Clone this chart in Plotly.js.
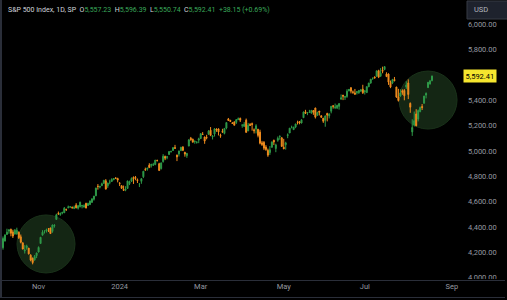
<!DOCTYPE html>
<html>
<head>
<meta charset="utf-8">
<script src="https://cdn.plot.ly/plotly-3.0.1.min.js"></script>
<style>html,body{margin:0;padding:0;background:#000;}#chart{width:507px;height:300px;}</style>
</head>
<body>
<div id="chart"></div>
<script>
// Trading days shown (S&P 500, daily)
const dates = [
'2023-10-06','2023-10-09','2023-10-10','2023-10-11','2023-10-12','2023-10-13','2023-10-16','2023-10-17','2023-10-18','2023-10-19','2023-10-20','2023-10-23','2023-10-24','2023-10-25','2023-10-26','2023-10-27','2023-10-30','2023-10-31',
'2023-11-01','2023-11-02','2023-11-03','2023-11-06','2023-11-07','2023-11-08','2023-11-09','2023-11-10','2023-11-13','2023-11-14','2023-11-15','2023-11-16','2023-11-17','2023-11-20','2023-11-21','2023-11-22','2023-11-24','2023-11-27','2023-11-28','2023-11-29','2023-11-30',
'2023-12-01','2023-12-04','2023-12-05','2023-12-06','2023-12-07','2023-12-08','2023-12-11','2023-12-12','2023-12-13','2023-12-14','2023-12-15','2023-12-18','2023-12-19','2023-12-20','2023-12-21','2023-12-22','2023-12-26','2023-12-27','2023-12-28','2023-12-29',
'2024-01-02','2024-01-03','2024-01-04','2024-01-05','2024-01-08','2024-01-09','2024-01-10','2024-01-11','2024-01-12','2024-01-16','2024-01-17','2024-01-18','2024-01-19','2024-01-22','2024-01-23','2024-01-24','2024-01-25','2024-01-26','2024-01-29','2024-01-30','2024-01-31',
'2024-02-01','2024-02-02','2024-02-05','2024-02-06','2024-02-07','2024-02-08','2024-02-09','2024-02-12','2024-02-13','2024-02-14','2024-02-15','2024-02-16','2024-02-20','2024-02-21','2024-02-22','2024-02-23','2024-02-26','2024-02-27','2024-02-28','2024-02-29',
'2024-03-01','2024-03-04','2024-03-05','2024-03-06','2024-03-07','2024-03-08','2024-03-11','2024-03-12','2024-03-13','2024-03-14','2024-03-15','2024-03-18','2024-03-19','2024-03-20','2024-03-21','2024-03-22','2024-03-25','2024-03-26','2024-03-27','2024-03-28',
'2024-04-01','2024-04-02','2024-04-03','2024-04-04','2024-04-05','2024-04-08','2024-04-09','2024-04-10','2024-04-11','2024-04-12','2024-04-15','2024-04-16','2024-04-17','2024-04-18','2024-04-19','2024-04-22','2024-04-23','2024-04-24','2024-04-25','2024-04-26','2024-04-29','2024-04-30',
'2024-05-01','2024-05-02','2024-05-03','2024-05-06','2024-05-07','2024-05-08','2024-05-09','2024-05-10','2024-05-13','2024-05-14','2024-05-15','2024-05-16','2024-05-17','2024-05-20','2024-05-21','2024-05-22','2024-05-23','2024-05-24','2024-05-28','2024-05-29','2024-05-30','2024-05-31',
'2024-06-03','2024-06-04','2024-06-05','2024-06-06','2024-06-07','2024-06-10','2024-06-11','2024-06-12','2024-06-13','2024-06-14','2024-06-17','2024-06-18','2024-06-20','2024-06-21','2024-06-24','2024-06-25','2024-06-26','2024-06-27','2024-06-28',
'2024-07-01','2024-07-02','2024-07-03','2024-07-05','2024-07-08','2024-07-09','2024-07-10','2024-07-11','2024-07-12','2024-07-15','2024-07-16','2024-07-17','2024-07-18','2024-07-19','2024-07-22','2024-07-23','2024-07-24','2024-07-25','2024-07-26','2024-07-29','2024-07-30','2024-07-31',
'2024-08-01','2024-08-02','2024-08-05','2024-08-06','2024-08-07','2024-08-08','2024-08-09','2024-08-12','2024-08-13','2024-08-14','2024-08-15','2024-08-16','2024-08-19'
];

const openP = [
4234.8,4289.0,4339.8,4366.6,4380.9,4360.5,4342.4,4345.2,4357.4,4321.4,4273.9,4210.4,4235.8,4232.4,4176.0,4152.9,4139.4,4171.3,
4201.3,4268.3,4334.2,4364.3,4366.2,4384.4,4391.4,4364.2,4406.7,4459.0,4505.3,4497.1,4509.6,4511.7,4538.8,4553.0,4555.8,4554.9,4545.6,4571.8,4548.0,
4559.4,4564.4,4557.3,4586.2,4568.8,4576.2,4593.4,4618.3,4646.2,4721.0,4714.2,4725.6,4743.7,4764.7,4724.3,4753.9,4758.9,4773.5,4786.4,4782.9,
4745.2,4725.1,4697.4,4690.6,4703.7,4741.9,4759.9,4792.1,4791.2,4772.4,4739.1,4760.1,4796.3,4853.4,4856.8,4888.6,4886.7,4888.9,4893.0,4925.9,4899.2,
4861.1,4916.1,4957.2,4950.2,4973.1,4995.2,5004.2,5026.8,4967.9,4976.4,5003.1,5031.1,4989.3,4963.0,5038.8,5100.9,5093.0,5074.6,5067.2,5085.4,
5098.5,5131.0,5110.5,5108.0,5132.4,5164.5,5112.0,5134.3,5173.5,5175.1,5123.3,5154.8,5139.1,5181.7,5253.4,5242.5,5219.5,5228.9,5226.3,5248.0,
5258.0,5204.3,5194.4,5244.1,5159.0,5211.4,5217.0,5167.9,5173.0,5171.5,5149.7,5064.6,5069.0,5031.5,5005.4,4987.3,5028.9,5084.9,5019.9,5084.7,5114.1,5103.8,
5029.0,5049.3,5122.8,5142.4,5187.2,5169.0,5189.3,5225.5,5233.1,5221.1,5263.3,5310.1,5303.1,5305.4,5298.7,5319.3,5340.3,5281.5,5315.9,5278.7,5259.8,5243.2,
5297.2,5278.2,5314.5,5357.8,5343.8,5341.2,5353.0,5409.1,5441.9,5424.1,5431.1,5476.2,5500.0,5466.8,5459.6,5460.7,5460.7,5473.6,5488.5,
5471.1,5461.8,5507.4,5537.9,5572.8,5584.2,5591.3,5635.2,5590.8,5638.2,5644.1,5610.1,5608.6,5543.4,5537.2,5565.3,5505.8,5428.7,5433.7,5476.6,5478.7,5505.6,
5537.8,5376.6,5151.1,5206.4,5293.1,5252.6,5311.8,5351.4,5377.0,5442.0,5501.1,5530.5,5557.23
];

const highP = [
4324.1,4341.7,4385.5,4378.6,4385.9,4377.1,4383.3,4393.6,4364.2,4339.5,4276.6,4255.8,4259.4,4232.4,4183.6,4156.7,4177.5,4195.6,
4245.6,4319.7,4374.0,4372.2,4386.3,4391.2,4393.4,4418.0,4421.8,4504.1,4521.2,4512.0,4520.1,4557.1,4542.1,4568.4,4560.3,4560.5,4568.1,4587.6,4569.9,
4599.4,4572.4,4578.6,4590.7,4590.9,4609.2,4623.0,4643.9,4709.7,4738.6,4725.5,4749.5,4768.7,4778.0,4748.7,4772.9,4784.7,4785.4,4793.3,4788.4,
4754.3,4729.3,4726.8,4721.5,4764.5,4765.5,4790.8,4798.5,4802.4,4782.3,4744.2,4785.8,4842.1,4868.4,4866.5,4903.7,4898.2,4906.7,4929.3,4931.1,4906.8,
4907.0,4975.3,4963.4,4957.8,4999.9,5000.4,5030.1,5048.4,4971.3,5002.5,5032.7,5038.7,4993.6,4983.2,5094.4,5111.1,5097.7,5080.7,5077.4,5105.0,
5140.3,5149.7,5114.5,5128.0,5165.6,5189.3,5124.7,5179.9,5179.1,5176.9,5136.9,5175.6,5180.3,5226.2,5261.1,5246.1,5229.1,5235.2,5249.3,5264.9,
5264.0,5208.3,5228.8,5256.6,5222.2,5219.6,5224.8,5178.4,5211.8,5175.0,5168.4,5079.8,5078.0,5046.5,5019.0,5038.8,5076.1,5089.5,5057.8,5114.6,5123.5,5110.8,
5096.1,5073.2,5139.1,5181.0,5200.2,5192.0,5215.3,5239.7,5237.3,5250.4,5311.8,5325.5,5305.4,5325.3,5324.3,5323.2,5341.9,5311.6,5315.9,5282.3,5260.2,5280.3,
5302.1,5298.8,5354.2,5362.4,5375.1,5365.8,5376.0,5447.3,5441.9,5432.4,5488.5,5490.4,5505.5,5478.3,5490.7,5472.9,5483.1,5490.8,5523.6,
5479.6,5509.7,5539.3,5570.3,5583.1,5590.8,5635.4,5642.5,5655.6,5666.9,5669.7,5622.5,5614.1,5557.5,5570.3,5585.3,5508.0,5491.5,5488.3,5487.7,5489.5,5551.5,
5566.2,5383.9,5250.9,5312.3,5330.6,5328.0,5351.9,5371.2,5436.5,5463.2,5546.2,5562.0,5596.39
];

const lowP = [
4219.6,4283.8,4339.6,4345.3,4325.4,4312.0,4342.4,4337.5,4303.8,4269.7,4223.0,4189.2,4219.4,4181.4,4127.9,4103.8,4132.9,4153.1,
4197.7,4268.3,4334.2,4347.5,4355.4,4359.8,4343.9,4353.3,4393.8,4459.0,4495.3,4487.8,4499.7,4510.4,4525.5,4545.1,4552.8,4545.9,4540.5,4547.2,4537.2,
4554.7,4546.7,4551.7,4546.5,4565.2,4574.1,4593.4,4608.1,4643.2,4694.3,4704.7,4725.6,4743.7,4697.8,4708.4,4736.8,4758.9,4768.9,4781.0,4752.0,
4722.7,4699.7,4687.5,4682.1,4699.8,4730.4,4756.2,4739.6,4769.0,4747.1,4714.8,4740.6,4785.9,4844.1,4844.4,4865.9,4869.3,4881.5,4887.4,4916.3,4845.2,
4853.5,4908.0,4927.9,4934.9,4969.1,4987.1,5000.3,5016.3,4920.3,4956.4,4999.4,4999.5,4955.0,4946.0,5038.8,5081.5,5068.9,5057.3,5058.4,5061.9,
5094.2,5127.2,5056.8,5092.2,5128.2,5117.5,5091.1,5114.5,5151.9,5123.3,5104.4,5145.5,5131.6,5171.6,5240.7,5229.9,5216.1,5203.4,5213.9,5246.5,
5229.2,5184.1,5194.4,5146.1,5157.2,5197.4,5160.8,5138.7,5138.8,5107.9,5052.5,5039.8,5007.3,5001.6,4953.6,4969.4,5028.0,5047.0,4990.6,5073.1,5088.7,5035.3,
5013.5,5011.1,5101.2,5142.4,5179.0,5165.9,5180.4,5209.7,5211.2,5218.0,5263.3,5296.2,5283.6,5302.4,5297.9,5286.0,5256.9,5278.4,5280.9,5262.7,5222.1,5191.7,
5234.3,5257.6,5297.6,5335.4,5331.3,5331.5,5327.3,5409.1,5402.5,5403.8,5420.4,5471.3,5455.6,5452.0,5447.6,5446.6,5451.9,5467.5,5451.1,
5446.5,5458.4,5507.4,5531.6,5562.5,5574.6,5586.4,5576.5,5590.4,5614.8,5639.0,5584.8,5522.8,5497.0,5529.0,5550.9,5420.0,5391.0,5430.7,5444.4,5401.0,5491.0,
5410.4,5302.0,5119.3,5193.6,5195.5,5233.9,5306.0,5324.4,5377.0,5416.0,5501.1,5525.2,5550.74
];

const closeP = [
4308.5,4335.7,4358.2,4377.0,4349.6,4327.8,4373.6,4373.2,4314.6,4278.0,4224.2,4217.0,4247.7,4186.8,4137.2,4117.4,4166.8,4193.8,
4237.9,4317.8,4358.3,4366.0,4378.4,4382.8,4347.4,4415.2,4411.6,4495.7,4502.9,4508.2,4514.0,4547.4,4538.2,4556.6,4559.3,4550.4,4554.9,4550.6,4567.8,
4594.6,4569.8,4567.2,4549.3,4585.6,4604.4,4622.4,4643.7,4707.1,4719.6,4719.2,4740.6,4768.4,4698.4,4746.8,4754.6,4774.8,4781.6,4783.4,4769.8,
4742.8,4704.8,4688.7,4697.2,4763.5,4756.5,4783.5,4780.2,4783.8,4766.0,4739.2,4780.9,4839.8,4850.4,4864.6,4868.6,4894.2,4891.0,4927.9,4925.0,4845.7,
4906.2,4958.6,4942.8,4954.2,4995.1,4997.9,5026.6,5021.8,4953.2,5000.6,5029.7,5005.6,4975.5,4981.8,5087.0,5088.8,5069.5,5078.2,5069.8,5096.3,
5137.1,5130.9,5078.7,5104.8,5157.4,5123.7,5117.9,5175.3,5165.3,5150.5,5117.1,5149.4,5178.5,5224.6,5241.5,5234.2,5218.2,5203.6,5248.5,5254.4,
5243.8,5205.8,5211.5,5147.2,5204.3,5202.4,5209.9,5160.6,5199.1,5123.4,5061.8,5051.4,5022.2,5011.1,4967.2,5010.6,5070.6,5071.6,5048.4,5100.0,5116.2,5035.7,
5018.4,5064.2,5127.8,5180.7,5187.7,5187.7,5214.1,5222.7,5221.4,5246.7,5308.2,5297.1,5303.3,5308.1,5321.4,5307.0,5267.8,5304.7,5306.0,5267.0,5235.5,5277.5,
5283.4,5291.3,5354.0,5353.0,5347.0,5360.8,5375.3,5421.0,5433.7,5431.6,5473.2,5487.0,5473.2,5464.6,5447.9,5469.3,5477.9,5482.9,5460.5,
5475.1,5509.0,5537.0,5567.2,5572.9,5577.0,5633.9,5584.5,5615.4,5631.2,5667.2,5588.3,5544.6,5505.0,5564.4,5555.7,5427.1,5399.2,5459.1,5463.5,5436.4,5522.3,
5446.7,5346.6,5186.3,5240.0,5199.5,5319.3,5344.2,5344.4,5434.4,5455.2,5543.2,5554.3,5592.41
];

// Axis labels (5,600 is hidden behind the last-price label in the reference)
const monthTickLabels = ['Nov','2024','Mar','May','Jul','Sep'];
const monthTickDates  = ['2023-11-01','2024-01-01','2024-03-01','2024-05-01','2024-07-01','2024-09-01'];
const priceTicks = [4000,4200,4400,4600,4800,5000,5200,5400,5800,6000];
const headerInfo = {symbol:'S&amp;P 500 Index, 1D, SP', o:'5,557.23', h:'5,596.39', l:'5,550.74', c:'5,592.41', chg:'+38.15 (+0.69%)'};
const currencyLabel = 'USD';

const n = dates.length;
[openP, highP, lowP, closeP].forEach((a, k) => {
  if (a.length !== n) throw new Error('array ' + k + ' length ' + a.length + ' != ' + n);
});

const xIdx = dates.map((d, i) => i);

function isWeekend(t){ const w = t.getUTCDay(); return w === 0 || w === 6; }
function barIndexOf(dstr){
  const i = dates.findIndex(d => d >= dstr);
  if (i >= 0) return i;
  const t = new Date(dates[n-1] + 'T00:00:00Z');
  const target = new Date(dstr + 'T00:00:00Z');
  let k = n - 1;
  do { t.setUTCDate(t.getUTCDate() + 1); if (!isWeekend(t)) k++; }
  while (t < target || isWeekend(t));
  return k;
}
const tickVals = monthTickDates.map(barIndexOf);

const GREEN = '#2f9a49';
const ORANGE = '#f08c1e';
const FONT = 'Roboto, "Liberation Sans", Arial, sans-serif';

const W = 507, H = 300, ML = 0, MR = 45, MT = 0, MB = 20;
const PW = W - ML - MR, PH = H - MT - MB;
const px = x => (x - ML) / PW;
const py = y => (H - MB - y) / PH;

const trace = {
  type: 'candlestick',
  x: xIdx,
  open: openP, high: highP, low: lowP, close: closeP,
  increasing: {line: {color: GREEN, width: 1}, fillcolor: GREEN},
  decreasing: {line: {color: ORANGE, width: 1}, fillcolor: ORANGE},
  whiskerwidth: 0,
  hoverinfo: 'skip'
};

const lastClose = closeP[n-1];
const g = s => '<span style="color:#3aa85a">' + s + '</span>';
const sp = '&nbsp;&nbsp;';
const headerText = headerInfo.symbol + sp + 'O' + g(headerInfo.o) + sp + 'H' + g(headerInfo.h) + sp + 'L' + g(headerInfo.l) + sp + 'C' + g(headerInfo.c) + sp + g(headerInfo.chg);

const layout = {
  width: W, height: H,
  margin: {l: ML, r: MR, t: MT, b: MB, pad: 0},
  paper_bgcolor: '#000', plot_bgcolor: '#000',
  showlegend: false,
  font: {family: FONT, color: '#9598a1', size: 7.5},
  xaxis: {
    range: [-1.517, 232.17],
    tickmode: 'array', tickvals: tickVals, ticktext: monthTickLabels,
    showgrid: false, zeroline: false, showline: false, ticks: '',
    tickfont: {family: FONT, size: 7.5, color: '#9598a1'},
    rangeslider: {visible: false}, fixedrange: true
  },
  yaxis: {
    side: 'right', range: [3980, 6194],
    tickmode: 'array', tickvals: priceTicks, tickformat: ',.2f',
    showgrid: false, zeroline: false, showline: false, ticks: '',
    ticklabelstandoff: 5,
    tickfont: {family: FONT, size: 7.5, color: '#9598a1'},
    fixedrange: true
  },
  shapes: [
    {type: 'circle', layer: 'below', xref: 'x', yref: 'y', xsizemode: 'pixel', ysizemode: 'pixel',
     xanchor: 21.75, yanchor: 4265, x0: -29, x1: 29, y0: -29, y1: 29,
     fillcolor: '#142614', line: {color: '#1a321a', width: 1}},
    {type: 'circle', layer: 'below', xref: 'x', yref: 'y', xsizemode: 'pixel', ysizemode: 'pixel',
     xanchor: 215, yanchor: 5403, x0: -29, x1: 29, y0: -29, y1: 29,
     fillcolor: '#142614', line: {color: '#1a321a', width: 1}},
    {type: 'rect', layer: 'above', xref: 'paper', yref: 'paper', x0: px(461), x1: px(510), y0: py(300), y1: py(279),
     fillcolor: '#000', line: {width: 0}},
    {type: 'line', layer: 'above', xref: 'paper', yref: 'paper', x0: px(0), x1: px(505), y0: py(280.5), y1: py(280.5),
     line: {color: '#2a2e39', width: 1}},
    {type: 'line', layer: 'above', xref: 'paper', yref: 'paper', x0: px(0), x1: px(505), y0: py(297.5), y1: py(297.5),
     line: {color: '#2a2e39', width: 1}},
    {type: 'line', layer: 'above', xref: 'paper', yref: 'paper', x0: px(1), x1: px(1), y0: py(298), y1: py(0),
     line: {color: '#2a2e39', width: 2}},
    {type: 'rect', layer: 'above', xref: 'paper', yref: 'paper', x0: px(467), x1: px(512), y0: py(19), y1: py(1),
     fillcolor: '#1e222d', line: {color: '#363a45', width: 1}}
  ],
  annotations: [
    {xref: 'paper', yref: 'paper', x: px(6), y: py(4), xanchor: 'left', yanchor: 'top', showarrow: false,
     text: headerText, font: {family: FONT, size: 7, color: '#d1d4dc'}},
    {xref: 'paper', yref: 'paper', x: px(472), y: py(10), xanchor: 'left', yanchor: 'middle', showarrow: false,
     text: currencyLabel, font: {family: FONT, size: 7.5, color: '#b2b5be'}},
    {xref: 'paper', yref: 'y', x: px(463), y: lastClose, xanchor: 'left', yanchor: 'middle', showarrow: false,
     text: lastClose.toLocaleString('en-US', {minimumFractionDigits: 2, maximumFractionDigits: 2}),
     bgcolor: '#f5e62e', borderpad: 1.5, font: {family: FONT, size: 7.5, color: '#000'}}
  ]
};

Plotly.newPlot('chart', [trace], layout, {displayModeBar: false, staticPlot: true});
</script>
</body>
</html>
